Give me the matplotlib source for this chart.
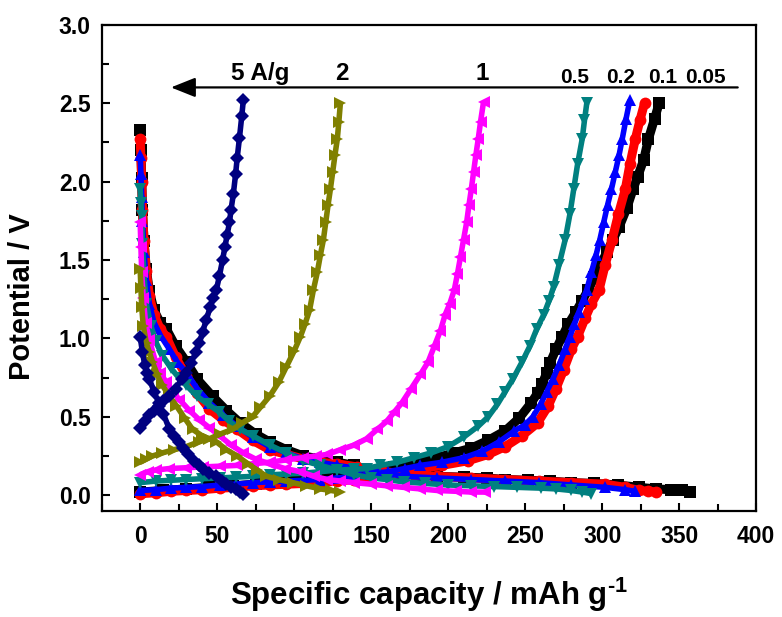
import numpy as np
import matplotlib
matplotlib.use("Agg")
import matplotlib.pyplot as plt
from matplotlib.ticker import MultipleLocator

plt.rcParams['font.family'] = ['Liberation Sans', 'DejaVu Sans']
plt.rcParams['font.weight'] = 'bold'
plt.rcParams['mathtext.fontset'] = 'custom'
plt.rcParams['mathtext.rm'] = 'Liberation Sans:bold'
plt.rcParams['mathtext.bf'] = 'Liberation Sans:bold'

# ---- data (capacity mAh/g, potential V) ----
# 0.05 A/g
cap_005_dis = [0, 0.5, 1, 1.5, 2.5, 4, 6, 9, 13, 17, 23, 30, 37, 47, 56, 65, 75, 84, 95, 106, 117, 128, 139,
               150, 165, 180, 193, 210, 225, 237, 252, 266, 280, 295, 310, 324, 335, 345, 352, 357]
v_005_dis = [2.33, 2.2, 2.02, 1.82, 1.62, 1.44, 1.3, 1.18, 1.1, 1.06, 0.95, 0.85, 0.74, 0.63, 0.54, 0.46, 0.39,
             0.34, 0.29, 0.25, 0.23, 0.21, 0.19, 0.15, 0.14, 0.13, 0.12, 0.115, 0.11, 0.10, 0.095, 0.09, 0.08,
             0.075, 0.065, 0.05, 0.04, 0.035, 0.03, 0.02]
cap_005_ch = [0, 15, 30, 45, 60, 75, 90, 105, 120, 135, 150, 165, 180, 193, 204, 215, 226, 237, 246, 254, 258,
              261, 264, 266, 270, 274, 278, 283, 287, 291, 295, 299, 303, 307, 311, 316, 320, 323, 327, 330, 334, 337]
v_005_ch = [0.02, 0.03, 0.04, 0.05, 0.06, 0.07, 0.085, 0.10, 0.11, 0.13, 0.15, 0.18, 0.21, 0.24, 0.27, 0.30,
            0.35, 0.41, 0.49, 0.59, 0.65, 0.71, 0.78, 0.84, 0.93, 1.01, 1.09, 1.17, 1.24, 1.31, 1.39, 1.47, 1.55,
            1.63, 1.71, 1.83, 1.95, 2.03, 2.14, 2.27, 2.40, 2.50]

# 0.1 A/g
cap_01_dis = [0, 0.5, 1, 1.5, 2.5, 4, 6, 9, 13, 17, 23, 30, 37, 45, 54, 63, 73, 84, 95, 106, 117, 128, 141,
              154, 171, 193, 215, 237, 259, 280, 302, 315, 324, 330, 335]
v_01_dis = [2.27, 2.15, 2.0, 1.82, 1.62, 1.43, 1.27, 1.15, 1.06, 1.01, 0.88, 0.76, 0.65, 0.55, 0.48, 0.42, 0.35,
            0.29, 0.26, 0.23, 0.21, 0.20, 0.18, 0.16, 0.13, 0.12, 0.11, 0.10, 0.09, 0.08, 0.07, 0.05, 0.03, 0.025, 0.02]
cap_01_ch = [0, 10, 20, 30, 40, 52, 62, 73, 84, 95, 106, 117, 128, 139, 150, 161, 172, 182, 196, 213, 226,
             237, 248, 258, 265, 270, 275, 280, 284, 289, 293, 298, 302, 306.5, 310.5, 315, 318, 321.5, 324.5, 327.5]
v_01_ch = [0.01, 0.015, 0.025, 0.03, 0.035, 0.045, 0.05, 0.06, 0.065, 0.07, 0.075, 0.08, 0.09, 0.10, 0.115, 0.13,
           0.15, 0.17, 0.19, 0.22, 0.26, 0.31, 0.38, 0.46, 0.57, 0.68, 0.80, 0.93, 1.01, 1.13, 1.22, 1.31, 1.47,
           1.63, 1.79, 1.95, 2.11, 2.27, 2.39, 2.50]

# 0.2 A/g
cap_02_dis = [0, 0.5, 1, 1.5, 2.5, 4, 6, 9, 13, 19, 24, 30, 37, 45, 54, 63, 73, 84, 95, 106, 117, 128, 141, 154,
              171, 193, 215, 237, 259, 280, 302, 315, 321]
v_02_dis = [2.17, 2.05, 1.9, 1.75, 1.55, 1.37, 1.22, 1.10, 1.02, 0.93, 0.85, 0.78, 0.68, 0.59, 0.51, 0.44, 0.37,
            0.31, 0.27, 0.23, 0.21, 0.19, 0.17, 0.15, 0.12, 0.11, 0.10, 0.09, 0.08, 0.065, 0.05, 0.035, 0.025]
cap_02_ch = [0, 10, 20, 30, 40, 52, 62, 73, 84, 95, 106, 117, 128, 139, 150, 161, 172, 182, 196, 210.5, 222, 233,
             243, 250, 255, 260, 264, 268, 272, 276, 279, 282, 285, 288, 290, 293, 296, 298.5, 301, 303.5, 306,
             308.5, 311, 313, 315.5, 318]
v_02_ch = [0.03, 0.035, 0.045, 0.05, 0.055, 0.065, 0.07, 0.08, 0.085, 0.09, 0.095, 0.10, 0.11, 0.12, 0.135, 0.15,
           0.17, 0.19, 0.21, 0.24, 0.28, 0.34, 0.41, 0.45, 0.50, 0.58, 0.66, 0.74, 0.83, 0.93, 1.01, 1.09, 1.17,
           1.25, 1.31, 1.42, 1.53, 1.63, 1.74, 1.85, 1.95, 2.06, 2.17, 2.27, 2.40, 2.52]

# 0.5 A/g
cap_05_dis = [0, 0.5, 1, 1.5, 2.5, 4, 7, 10, 14.5, 20, 25, 30, 37, 44, 51.5, 58, 65, 73, 84, 95, 106, 117, 128,
              139, 150, 160, 171, 185, 200, 215, 230, 245, 260, 270, 280, 287, 293]
v_05_dis = [1.95, 1.86, 1.78, 1.6, 1.4, 1.22, 1.08, 0.98, 0.89, 0.81, 0.75, 0.70, 0.63, 0.58, 0.53, 0.47, 0.42,
            0.38, 0.32, 0.27, 0.22, 0.19, 0.16, 0.13, 0.11, 0.10, 0.085, 0.075, 0.065, 0.06, 0.055, 0.05, 0.045,
            0.04, 0.03, 0.02, 0.01]
cap_05_ch = [0, 10, 20, 30, 40, 52, 62, 73, 84, 95, 106, 117, 128, 139, 147, 156, 167, 178, 189, 200, 210, 219.5,
             226, 232, 237, 242, 248, 253, 257.5, 262, 265.5, 268.5, 272, 276, 279, 281.5, 284, 287, 288.5, 290]
v_05_ch = [0.08, 0.09, 0.095, 0.10, 0.105, 0.11, 0.115, 0.12, 0.13, 0.135, 0.14, 0.15, 0.16, 0.165, 0.17, 0.19,
           0.21, 0.24, 0.27, 0.31, 0.37, 0.44, 0.50, 0.58, 0.66, 0.74, 0.85, 0.95, 1.06, 1.15, 1.24, 1.33, 1.47,
           1.63, 1.79, 1.95, 2.11, 2.27, 2.39, 2.50]

# 1 A/g
cap_1_dis = [0, 0.5, 1, 2, 3.5, 6, 10, 13, 17, 21, 25.5, 32, 38.5, 45, 51.5, 59, 67, 75, 84, 94, 104, 113, 121.5,
             130, 139, 150, 160, 171, 182, 193, 205, 215, 224]
v_1_dis = [1.74, 1.58, 1.42, 1.26, 1.10, 0.99, 0.85, 0.78, 0.72, 0.66, 0.61, 0.54, 0.48, 0.43, 0.38, 0.32, 0.27,
           0.23, 0.20, 0.17, 0.15, 0.12, 0.10, 0.09, 0.08, 0.07, 0.06, 0.05, 0.04, 0.03, 0.025, 0.02, 0.02]
cap_1_ch = [0, 5, 10, 19, 30, 40.5, 52, 63, 73, 84, 95, 106, 114, 121.5, 130, 139, 147, 154, 160, 165, 170, 176,
            182, 187, 191, 195, 198, 201, 204, 206, 208, 210, 212, 213.5, 215, 216.5, 218, 219.5, 221, 223]
v_1_ch = [0.13, 0.15, 0.16, 0.17, 0.175, 0.18, 0.185, 0.19, 0.20, 0.21, 0.225, 0.24, 0.25, 0.26, 0.29, 0.32, 0.36,
          0.42, 0.47, 0.53, 0.59, 0.68, 0.77, 0.85, 0.95, 1.05, 1.15, 1.22, 1.31, 1.41, 1.52, 1.63, 1.74, 1.85,
          1.95, 2.06, 2.17, 2.27, 2.38, 2.51]

# 2 A/g
cap_2_dis = [0, 0.5, 1, 2, 4, 6, 8, 11, 14.5, 19, 23.5, 29, 34, 40, 49.5, 56, 63, 70, 76, 82, 90, 99, 108, 117,
             124, 130]
v_2_dis = [1.44, 1.32, 1.20, 1.08, 0.97, 0.91, 0.85, 0.77, 0.70, 0.63, 0.57, 0.49, 0.42, 0.38, 0.34, 0.29, 0.25,
           0.20, 0.16, 0.12, 0.10, 0.08, 0.06, 0.04, 0.03, 0.02]
cap_2_ch = [0, 4, 8, 14.5, 22, 30, 38, 45, 52, 60, 66, 73, 78, 84, 90, 95, 100, 104, 107, 110, 112.5, 115, 117,
            119, 120.5, 122, 123.5, 125, 126.5, 128, 129, 130]
v_2_ch = [0.21, 0.23, 0.25, 0.27, 0.29, 0.31, 0.34, 0.36, 0.39, 0.42, 0.46, 0.50, 0.56, 0.63, 0.72, 0.82, 0.92,
          1.01, 1.09, 1.18, 1.31, 1.42, 1.53, 1.63, 1.74, 1.85, 1.95, 2.06, 2.17, 2.27, 2.38, 2.50]

# 5 A/g
cap_5_dis = [0, 1.5, 3, 4.5, 6, 9, 12, 15, 19, 22, 25, 28, 31, 35, 38, 41, 45, 49.5, 53, 56, 59, 62, 65, 67]
v_5_dis = [1.01, 0.91, 0.83, 0.78, 0.74, 0.66, 0.59, 0.52, 0.42, 0.38, 0.34, 0.30, 0.26, 0.22, 0.19, 0.17, 0.14,
           0.12, 0.09, 0.07, 0.05, 0.04, 0.02, 0.01]
cap_5_ch = [0, 3, 6, 9, 12, 15, 19, 23, 27, 30, 33, 36, 38.5, 40.5, 43, 45.5, 47.5, 49.5, 51.5, 53.5, 55, 56.5,
            58, 59, 60.5, 62, 63, 64.5, 66, 67]
v_5_ch = [0.43, 0.47, 0.51, 0.54, 0.57, 0.60, 0.63, 0.68, 0.74, 0.78, 0.84, 0.91, 0.97, 1.04, 1.12, 1.20, 1.26,
          1.31, 1.40, 1.50, 1.58, 1.66, 1.74, 1.82, 1.92, 2.05, 2.15, 2.28, 2.42, 2.52]

rate_labels = ['5 A/g', '2', '1', '0.5', '0.2', '0.1', '0.05']
label_x = [78, 131, 222, 282, 312, 339, 367]

series = [
    (cap_005_dis, v_005_dis, cap_005_ch, v_005_ch, 'black', 's'),
    (cap_01_dis, v_01_dis, cap_01_ch, v_01_ch, 'red', 'o'),
    (cap_02_dis, v_02_dis, cap_02_ch, v_02_ch, 'blue', '^'),
    (cap_05_dis, v_05_dis, cap_05_ch, v_05_ch, '#008080', 'v'),
    (cap_1_dis, v_1_dis, cap_1_ch, v_1_ch, 'magenta', '<'),
    (cap_2_dis, v_2_dis, cap_2_ch, v_2_ch, '#808000', '>'),
    (cap_5_dis, v_5_dis, cap_5_ch, v_5_ch, '#000080', 'D'),
]

fig = plt.figure(figsize=(7.82, 6.17), dpi=100)
ax = fig.add_axes([0.130, 0.172, 0.837, 0.788])

for cd, vd, cc, vc, col, mk in series:
    lw = 6.5 if mk in ('s', 'o') else 4
    ms = 7 if mk == 'D' else 8.5
    for x, y in ((cd, vd), (cc, vc)):
        ax.plot(x, y, color=col, lw=lw, marker=mk, ms=ms, mew=0, solid_capstyle='butt')

ax.annotate('', xy=(20, 2.6), xytext=(388, 2.6),
            arrowprops=dict(arrowstyle='-|>,head_length=0.75,head_width=0.3', lw=1.6,
                            color='black', mutation_scale=20, shrinkA=0, shrinkB=0))
for i, (lab, lx) in enumerate(zip(rate_labels, label_x)):
    big = i < 3
    ax.text(lx, 2.65 if big else 2.63, lab, ha='center', va='baseline',
            fontsize=17.5 if big else 15, fontweight='bold')

ax.set_xlim(-25, 400)
ax.set_ylim(-0.1, 3.0)
ax.xaxis.set_major_locator(MultipleLocator(50))
ax.xaxis.set_minor_locator(MultipleLocator(25))
ax.yaxis.set_major_locator(MultipleLocator(0.5))
ax.yaxis.set_minor_locator(MultipleLocator(0.25))
ax.yaxis.set_major_formatter(plt.FuncFormatter(lambda v, p: f'{v:.1f}'))
ax.tick_params(which='both', direction='in', top=False, right=False, width=1.5, labelsize=16.5)
ax.tick_params(which='major', length=6)
ax.tick_params(which='minor', length=5)
ax.tick_params(axis='x', pad=10)
ax.tick_params(axis='y', pad=8)
for lbl in ax.get_xticklabels() + ax.get_yticklabels():
    lbl.set_fontweight('bold')
for sp in ax.spines.values():
    sp.set_linewidth(1.6)

ax.set_xlabel(r'Specific capacity / mAh g$^{\text{-1}}$', fontsize=22.5, fontweight='bold', labelpad=20)
ax.set_ylabel('Potential / V', fontsize=21, fontweight='bold')
ax.yaxis.set_label_coords(-0.10, 0.44)

fig.savefig('out.png', dpi=100)
